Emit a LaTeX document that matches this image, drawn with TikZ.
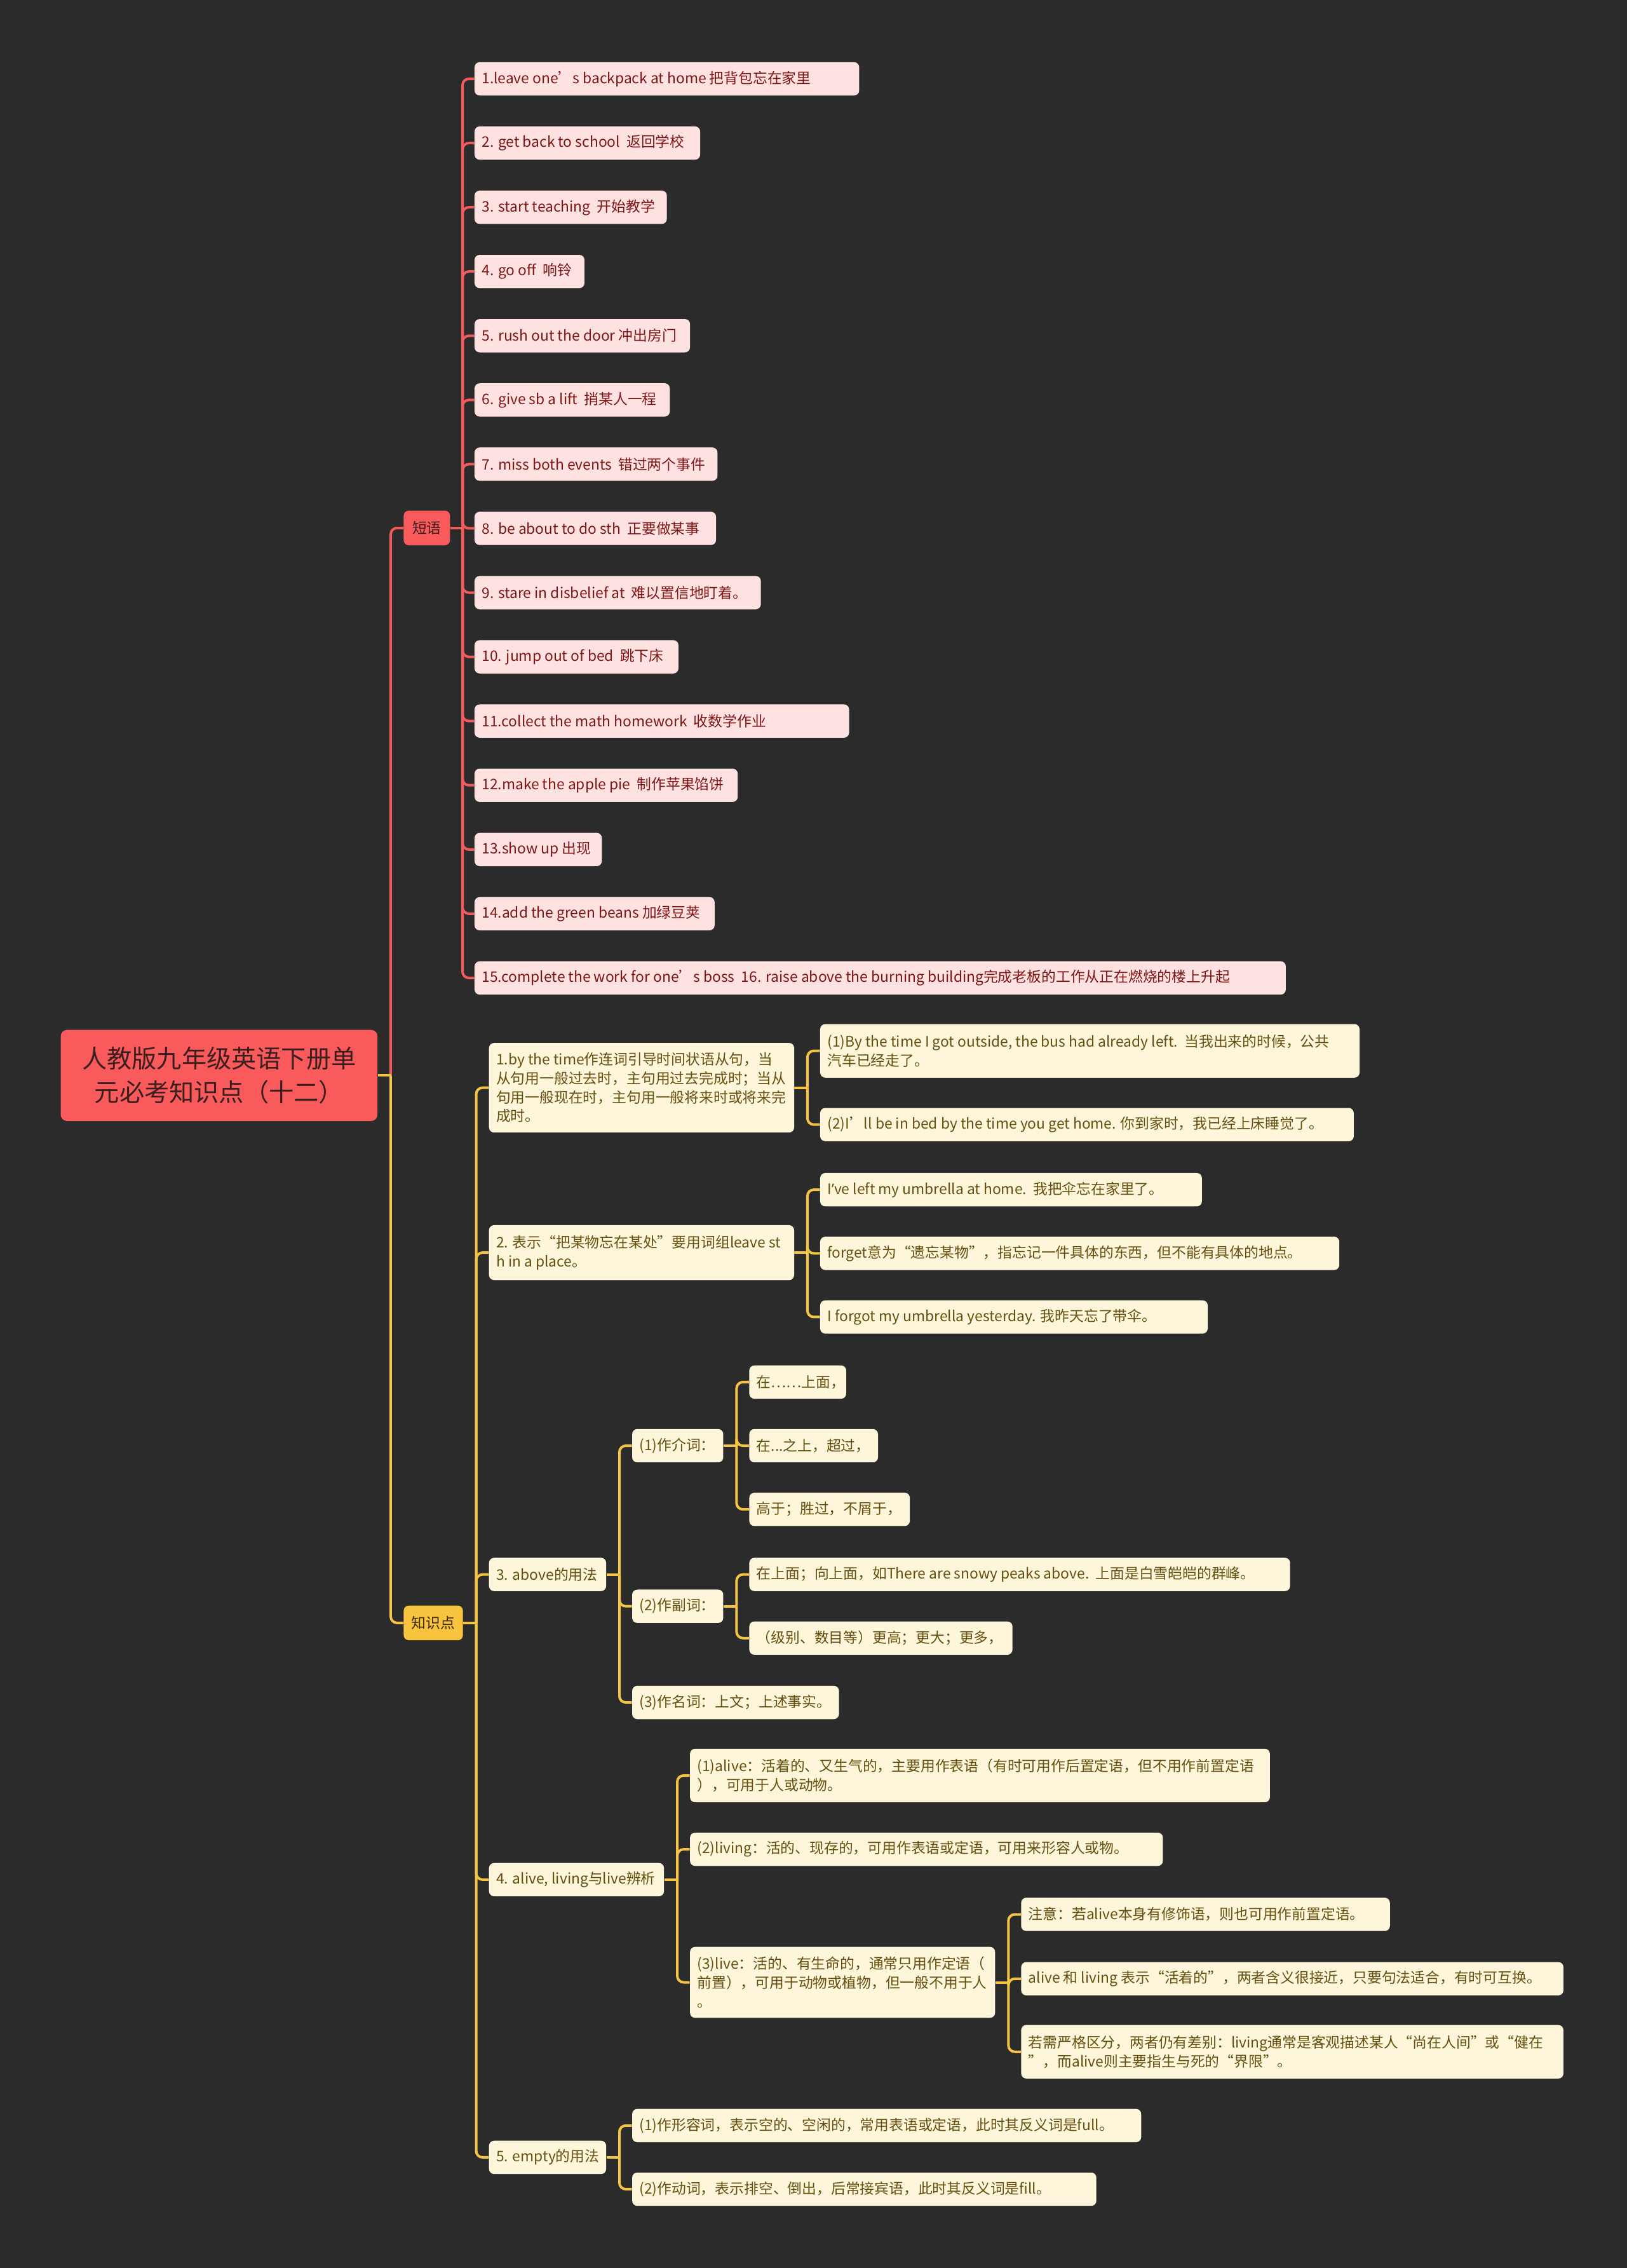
\documentclass[tikz,border=0pt]{standalone}
\usepackage{fontspec}
\setmainfont{Noto Sans CJK SC}
\newfontfamily\latinq{Noto Sans}
\definecolor{bgc}{HTML}{2B2B2B}
\definecolor{rootfill}{HTML}{F95A5B}
\definecolor{roottext}{HTML}{3D1E1E}
\definecolor{pkfill}{HTML}{FEE2E2}
\definecolor{pktext}{HTML}{7E1616}
\definecolor{ylfill}{HTML}{FEF6DB}
\definecolor{yltext}{HTML}{65500F}
\definecolor{gold}{HTML}{F8C43F}
\definecolor{goldtext}{HTML}{3A2C06}
\definecolor{redline}{HTML}{F25B5C}
\definecolor{ylline}{HTML}{F6C444}
\newlength\bxlen
\newcommand{\bx}[2]{\pgfmathsetlength{\bxlen}{#1*1.1378pt-11.4pt}\hbox to \bxlen{#2\hss}}
\newcommand{\bxm}[2]{\pgfmathsetlength{\bxlen}{#1*1.1378pt-11.4pt}\vbox{\hsize=\bxlen\baselineskip=14.8pt\lineskiplimit=-20pt #2}}
\newcommand{\bline}[1]{\hbox to\hsize{#1\hss}}
\newcommand{\leaffont}{\fontsize{11.4pt}{14.8pt}\selectfont}
\begin{document}
\begin{tikzpicture}[x=1.1378pt,y=-1.1378pt,
  base/.style={rounded corners=4pt, anchor=west, inner xsep=5.7pt, inner ysep=1pt, minimum height=26.2pt, font=\leaffont},
  pk/.style={base, fill=pkfill, text=pktext},
  yl/.style={base, fill=ylfill, text=yltext},
  rootst/.style={fill=rootfill, text=roottext, rounded corners=5pt, minimum width=249.2pt, minimum height=71.7pt, inner sep=0pt, align=center, font=\fontsize{19.6pt}{26pt}\selectfont},
  mainred/.style={fill=rootfill, text=roottext, rounded corners=4pt, anchor=west, inner sep=0pt, minimum height=27.3pt, font=\leaffont},
  maingold/.style={fill=gold, text=goldtext, rounded corners=4pt, anchor=west, inner sep=0pt, minimum height=27.3pt, font=\leaffont},
  rl/.style={draw=redline, line width=2pt},
  yln/.style={draw=ylline, line width=2pt},
  rc/.style={rounded corners=5pt}]
\fill[bgc] (0,0) rectangle (1125,1568);
\useasboundingbox (0,0) rectangle (1125,1568);

% root and main branches
\node[rootst] (root) at (151.5,743.5) {人教版九年级英语下册单\\元必考知识点（十二）};
\node[mainred, minimum width=36.4pt] (dy) at (279,365) {短语};
\node[maingold, minimum width=46.6pt] (zs) at (279,1122) {知识点};

% phrases
\node[pk] (p1) at (328,54.5) {\bx{266}{1.leave one’s backpack at home 把背包忘在家里}};
\node[pk] (p2) at (328,98.9) {\bx{156}{2. get back to school\ \ 返回学校}};
\node[pk] (p3) at (328,143.3) {\bx{133}{3. start teaching\ \ 开始教学}};
\node[pk] (p4) at (328,187.7) {\bx{76}{4. go off\ \ 响铃}};
\node[pk] (p5) at (328,232.1) {\bx{149}{5. rush out the door 冲出房门}};
\node[pk] (p6) at (328,276.5) {\bx{135}{6. give sb a lift\ \ 捎某人一程}};
\node[pk] (p7) at (328,320.9) {\bx{168}{7. miss both events\ \ 错过两个事件}};
\node[pk] (p8) at (328,365.3) {\bx{167}{8. be about to do sth\ \ 正要做某事}};
\node[pk] (p9) at (328,409.7) {\bx{198}{9. stare in disbelief at\ \ 难以置信地盯着。}};
\node[pk] (p10) at (328,454.1) {\bx{141}{10. jump out of bed\ \ 跳下床}};
\node[pk] (p11) at (328,498.5) {\bx{259}{11.collect the math homework\ \ 收数学作业}};
\node[pk] (p12) at (328,542.9) {\bx{182}{12.make the apple pie\ \ 制作苹果馅饼}};
\node[pk] (p13) at (328,587.3) {\bx{88}{13.show up 出现}};
\node[pk] (p14) at (328,631.7) {\bx{166}{14.add the green beans 加绿豆荚}};
\node[pk] (p15) at (328,676.1) {\bx{561}{15.complete the work for one’s boss\ \ 16. raise above the burning building完成老板的工作从正在燃烧的楼上升起}};

% knowledge points
\node[yl, minimum height=70.5pt] (k1) at (338,752) {\bxm{211}{\bline{1.by the time作连词引导时间状语从句，当}\bline{从句用一般过去时，主句用过去完成时；当从}\bline{句用一般现在时，主句用一般将来时或将来完}\bline{成时。}}};
\node[yl, minimum height=43.2pt] (k2) at (338,866) {\bxm{211}{\bline{2. 表示“把某物忘在某处”要用词组leave st}\bline{h in a place。}}};
\node[yl] (k3) at (338,1088.5) {\bx{81}{3. above的用法}};
\node[yl] (k4) at (338,1299.5) {\bx{121}{4. alive, living与live辨析}};
\node[yl] (k5) at (338,1491.5) {\bx{81}{5. empty的用法}};

\node[yl, minimum height=42.1pt] (k1a) at (567,726.5) {\bxm{373}{\bline{(1)By the time I got outside, the bus had already left.\ \ 当我出来的时候，公共}\bline{汽车已经走了。}}};
\node[yl] (k1b) at (567,777.5) {\bx{369}{(2)I’ll be in bed by the time you get home. 你到家时，我已经上床睡觉了。}};

\node[yl] (k2a) at (567,822.5) {\bx{264}{I{\latinq ’}ve left my umbrella at home.\ \ 我把伞忘在家里了。}};
\node[yl] (k2b) at (567,866.5) {\bx{359}{forget意为“遗忘某物”，指忘记一件具体的东西，但不能有具体的地点。}};
\node[yl] (k2c) at (567,910.5) {\bx{268}{I forgot my umbrella yesterday. 我昨天忘了带伞。}};

\node[yl] (k3a) at (437,999.5) {\bx{63}{(1)作介词：}};
\node[yl] (k3b) at (437,1110.5) {\bx{63}{(2)作副词：}};
\node[yl] (k3c) at (437,1177) {\bx{143}{(3)作名词：上文；上述事实。}};

\node[yl] (k3a1) at (518,955.5) {\bx{67}{在……上面，}};
\node[yl] (k3a2) at (518,999.5) {\bx{89}{在...之上，超过，}};
\node[yl] (k3a3) at (518,1043.5) {\bx{111}{高于；胜过，不屑于，}};

\node[yl] (k3b1) at (518,1088.5) {\bx{374}{在上面；向上面，如There are snowy peaks above.\ \ 上面是白雪皑皑的群峰。}};
\node[yl] (k3b2) at (518,1132.5) {\bx{182}{（级别、数目等）更高；更大；更多，}};

\node[yl, minimum height=42.1pt] (k4a) at (477,1227.5) {\bxm{401}{\bline{(1)alive：活着的、又生气的，主要用作表语（有时可用作后置定语，但不用作前置定语}\bline{），可用于人或动物。}}};
\node[yl] (k4b) at (477,1278.5) {\bx{327}{(2)living：活的、现存的，可用作表语或定语，可用来形容人或物。}};
\node[yl, minimum height=55.8pt] (k4c) at (477,1370.5) {\bxm{211}{\bline{(3)live：活的、有生命的，通常只用作定语（}\bline{前置），可用于动物或植物，但一般不用于人}\bline{。}}};

\node[yl] (k4c1) at (706,1323.5) {\bx{255}{注意：若alive本身有修饰语，则也可用作前置定语。}};
\node[yl] (k4c2) at (706,1368) {\bx{375}{alive 和 living 表示“活着的”，两者含义很接近，只要句法适合，有时可互换。}};
\node[yl, minimum height=42.1pt] (k4c3) at (706,1418.5) {\bxm{375}{\bline{若需严格区分，两者仍有差别：living通常是客观描述某人“尚在人间”或“健在}\bline{”，而alive则主要指生与死的“界限”。}}};

\node[yl] (k5a) at (437,1469.5) {\bx{352}{(1)作形容词，表示空的、空闲的，常用表语或定语，此时其反义词是full。}};
\node[yl] (k5b) at (437,1513.5) {\bx{321}{(2)作动词，表示排空、倒出，后常接宾语，此时其反义词是fill。}};

% connectors
\draw[rl] (root.east) -- ++(9,0) coordinate (rj);
\draw[rl, rc] (rj) |- (dy.west);
\draw[yln] (root.east) -- (rj);
\draw[yln, rc] (rj) |- (zs.west);

\draw[rl] (dy.east) -- ++(8.5,0) coordinate (dj);
\foreach \i in {1,...,15} \draw[rl, rc] (dj) |- (p\i.west);

\draw[yln] (zs.east) -- ++(9,0) coordinate (zj);
\foreach \n in {k1,k2,k3,k4,k5} \draw[yln, rc] (zj) |- (\n.west);

\draw[yln] (k1.east) -- ++(9,0) coordinate (k1j);
\foreach \n in {k1a,k1b} \draw[yln, rc] (k1j) |- (\n.west);
\draw[yln] (k2.east) -- ++(9,0) coordinate (k2j);
\foreach \n in {k2a,k2b,k2c} \draw[yln, rc] (k2j) |- (\n.west);
\draw[yln] (k3.east) -- ++(9,0) coordinate (k3j);
\foreach \n in {k3a,k3b,k3c} \draw[yln, rc] (k3j) |- (\n.west);
\draw[yln] (k3a.east) -- ++(9,0) coordinate (k3aj);
\foreach \n in {k3a1,k3a2,k3a3} \draw[yln, rc] (k3aj) |- (\n.west);
\draw[yln] (k3b.east) -- ++(9,0) coordinate (k3bj);
\foreach \n in {k3b1,k3b2} \draw[yln, rc] (k3bj) |- (\n.west);
\draw[yln] (k4.east) -- ++(9,0) coordinate (k4j);
\foreach \n in {k4a,k4b,k4c} \draw[yln, rc] (k4j) |- (\n.west);
\draw[yln] (k4c.east) -- ++(9,0) coordinate (k4cj);
\foreach \n in {k4c1,k4c2,k4c3} \draw[yln, rc] (k4cj) |- (\n.west);
\draw[yln] (k5.east) -- ++(9,0) coordinate (k5j);
\foreach \n in {k5a,k5b} \draw[yln, rc] (k5j) |- (\n.west);
\end{tikzpicture}
\end{document}
